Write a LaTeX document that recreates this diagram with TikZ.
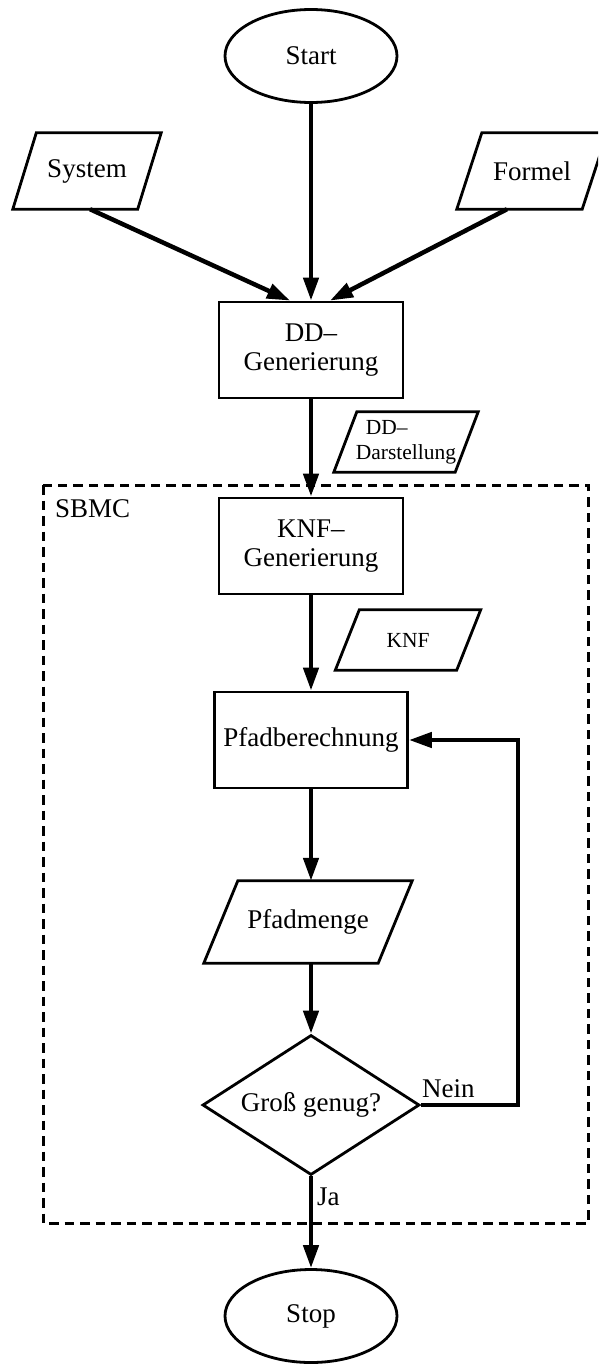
\documentclass[tikz,border=0pt]{standalone}
\usepackage{fontspec}
\setmainfont{Liberation Serif}
\usetikzlibrary{shapes.geometric,arrows.meta,calc}
\newcommand\drawpara[2]{\draw[iolines] ([xshift=#2/2]#1.north west) -- ([xshift=#2/2]#1.north east) -- ([xshift=-#2/2]#1.south east) -- ([xshift=-#2/2]#1.south west) -- cycle;}
\begin{document}
\begin{tikzpicture}[x=1pt,y=-1pt,
  bigtext/.style={font=\fontsize{27}{29}\selectfont},
  smalltext/.style={font=\fontsize{21.5}{25}\selectfont},
  terminal/.style={ellipse,draw,line width=2.8pt,minimum width=172pt,minimum height=93pt,inner sep=0pt,bigtext},
  procbox/.style={rectangle,draw,line width=2.8pt,minimum width=184pt,minimum height=96pt,align=center,inner sep=0pt,bigtext},
  iobox/.style={rectangle,inner sep=0pt,align=center},
  iolines/.style={line width=2.8pt,line join=miter},
  decision/.style={diamond,draw,line width=2.8pt,aspect=1.55,minimum width=217pt,minimum height=140pt,inner sep=0pt,bigtext},
  flow/.style={line width=4.5pt,line join=miter,-{Triangle[length=23pt,width=15pt]}},
  frame/.style={line width=3pt,dash pattern=on 9.5pt off 6pt},
  label/.style={bigtext,inner sep=0pt,anchor=base west},
]
\useasboundingbox (0,0) rectangle (598,1365);
\clip (0,0) rectangle (598,1365);

% SBMC frame
\draw[frame] (43,485) rectangle (588,1223);
\node[label] (sbmc) at (55,517) {SBMC};

% nodes
\node[terminal] (start) at (311,56) {Start};
\node[iobox,bigtext,minimum width=124.5pt,minimum height=76pt] (sys) at (87,171) {System};
\drawpara{sys}{23.5pt}
\node[iobox,bigtext,minimum width=125pt,minimum height=76pt] (formel) at (532,171) {Formel};
\drawpara{formel}{25pt}
\node[procbox] (dd) at (311,350) {DD–\\Generierung};
\node[iobox,smalltext,align=left,minimum width=121pt,minimum height=60pt] (ddd) at (406,442) {\hspace*{10pt}DD–\\Darstellung};
\drawpara{ddd}{23pt}
\node[procbox] (knf) at (311,546) {KNF–\\Generierung};
\node[iobox,smalltext,minimum width=121pt,minimum height=60pt] (knfd) at (408,640) {KNF};
\drawpara{knfd}{24pt}
\node[procbox,minimum width=193pt] (pfad) at (311,740) {Pfadberechnung};
\node[iobox,bigtext,minimum width=174pt,minimum height=82pt] (pm) at (308,922) {Pfadmenge};
\drawpara{pm}{34pt}
\node[decision] (q) at (311,1105) {Groß genug?};
\node[terminal] (stop) at (311,1316) {Stop};
\coordinate (loop) at (518,1105);

% connectors
\draw[flow] (start.south) -- (dd.north);
\draw[flow] ([xshift=3pt]sys.south) -- ([xshift=-21pt]dd.north);
\draw[flow] ([xshift=-25pt]formel.south) -- ([xshift=19pt]dd.north);
\draw[flow] (dd.south) -- (knf.north);
\draw[flow] (knf.south) -- (pfad.north);
\draw[flow] (pfad.south) -- (pfad.south |- pm.north);
\draw[flow] (pfad.south |- pm.south) -- (q.north);
\draw[flow] (q.south) -- (stop.north);
\draw[flow] (q.east) -- (loop) |- (pfad.east);

% labels
\node[label] (nein) at (422,1097) {Nein};
\node[label] (ja) at (317,1205) {Ja};
\end{tikzpicture}
\end{document}
